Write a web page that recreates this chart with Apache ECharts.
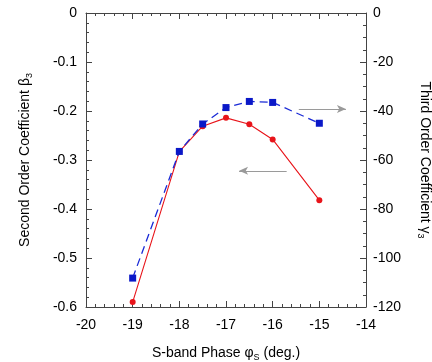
<!DOCTYPE html>
<html>
<head>
<meta charset="utf-8">
<script src="https://cdn.jsdelivr.net/npm/echarts@6/dist/echarts.min.js"></script>
<style>html,body{margin:0;padding:0;background:#fff;}#c{width:432px;height:362px;}</style>
</head>
<body>
<div id="c"></div>
<script>
var phase = [-19, -18, -17.5, -17, -16.5, -16, -15];
var beta3 = [-0.590, -0.283, -0.231, -0.214, -0.227, -0.258, -0.382];
var gamma3 = [-108.2, -56.5, -45.3, -38.6, -36.1, -36.5, -45.0];
var arrowRight = [[-15.44, -0.196], [-14.43, -0.196]];
var arrowLeft = [[-15.70, -0.322], [-16.72, -0.322]];

var FONT = 'Liberation Sans, Arial, sans-serif';
var chart = echarts.init(document.getElementById('c'), null, {renderer: 'canvas'});
function pairs(xs, ys) { return xs.map(function (x, i) { return [x, ys[i]]; }); }
function tick(len) { return {show: true, inside: true, length: len, lineStyle: {color: '#444', width: 1}}; }
function minor(n) { return {show: true, splitNumber: n, length: 3, lineStyle: {color: '#444', width: 1}}; }
var axisLine = {show: true, onZero: false, lineStyle: {color: '#444', width: 1}};
var label = function (m) { return {show: true, color: '#000', fontSize: 14, fontFamily: FONT, margin: m}; };
var sub = {fontSize: 9, fontFamily: FONT, color: '#000', verticalAlign: 'bottom', padding: [8, 0, 0, 0]};
var main = {fontSize: 14, fontFamily: FONT, color: '#000'};
var gray = '#9a9a9a';
chart.setOption({
  animation: false,
  grid: {left: 86, right: 66, top: 13, bottom: 55, outerBoundsMode: 'none'},
  xAxis: [
    {
      type: 'value', min: -20, max: -14, interval: 1, position: 'bottom',
      axisLine: axisLine, axisTick: tick(6), minorTick: minor(5), splitLine: {show: false},
      axisLabel: label(11),
      name: '{a|S-band Phase φ}{s|S}{a| (deg.)}', nameLocation: 'middle', nameGap: 38,
      nameTextStyle: {rich: {a: main, s: sub}}
    },
    {
      type: 'value', min: -20, max: -14, interval: 1, position: 'top',
      axisLine: axisLine, axisTick: tick(6), minorTick: minor(5), splitLine: {show: false},
      axisLabel: {show: false}
    }
  ],
  yAxis: [
    {
      type: 'value', min: -0.6, max: 0, interval: 0.1, position: 'left',
      axisLine: axisLine, axisTick: tick(6), minorTick: minor(5), splitLine: {show: false},
      axisLabel: label(9),
      name: '{a|Second Order Coefficient β}{s|3}', nameLocation: 'middle', nameGap: 52, nameRotate: 90,
      nameTextStyle: {rich: {a: main, s: sub}}
    },
    {
      type: 'value', min: -120, max: 0, interval: 20, position: 'right',
      axisLine: axisLine, axisTick: tick(6), minorTick: minor(4), splitLine: {show: false},
      axisLabel: label(7),
      name: '{a|Third Order Coefficient γ}{s|3}', nameLocation: 'middle', nameGap: 50, nameRotate: -90,
      nameTextStyle: {rich: {a: main, s: sub}}
    }
  ],
  series: [
    {
      type: 'line', xAxisIndex: 0, yAxisIndex: 0, data: pairs(phase, beta3),
      symbol: 'circle', symbolSize: 6,
      lineStyle: {color: '#e8141a', width: 1.1},
      itemStyle: {color: '#e8141a'},
      markLine: {
        silent: true, symbol: ['none', 'arrow'], symbolSize: [6, 9],
        label: {show: false},
        emphasis: {disabled: true},
        lineStyle: {color: gray, type: 'solid', width: 1},
        itemStyle: {color: gray},
        data: [
          [{coord: arrowRight[0]}, {coord: arrowRight[1]}],
          [{coord: arrowLeft[0]}, {coord: arrowLeft[1]}]
        ]
      }
    },
    {
      type: 'line', xAxisIndex: 0, yAxisIndex: 1, data: pairs(phase, gamma3),
      symbol: 'rect', symbolSize: 7,
      lineStyle: {color: '#1a2ad6', width: 1.3, type: [8, 5]},
      itemStyle: {color: '#0a18c8'}
    }
  ]
});
</script>
</body>
</html>
